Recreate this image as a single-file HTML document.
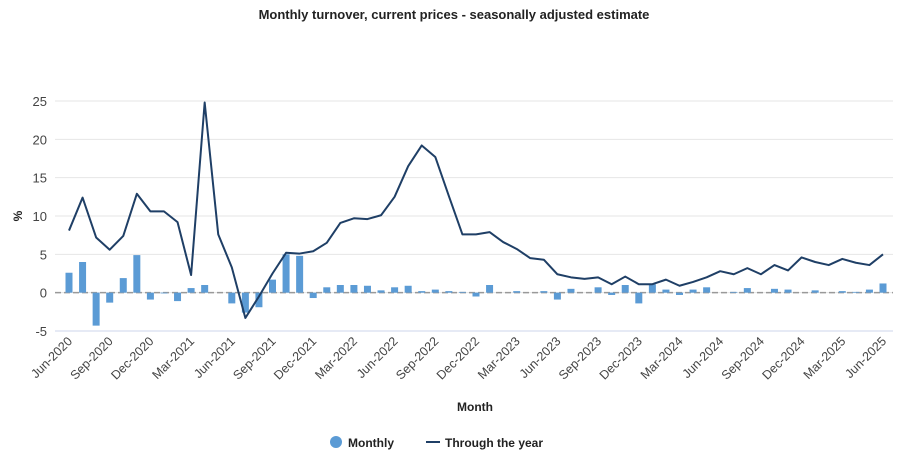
<!DOCTYPE html>
<html><head><meta charset="utf-8"><style>
body{margin:0;background:#fff;font-family:"Liberation Sans",sans-serif}
svg text{font-family:"Liberation Sans",sans-serif}
</style></head><body>
<svg id="c" width="908" height="462">
<text x="454" y="19" text-anchor="middle" font-size="13" font-weight="bold" fill="#222">Monthly turnover, current prices - seasonally adjusted estimate</text>
<g id="grid"></g><g id="bars"></g><g id="line"></g><g id="xl"></g>
<text transform="translate(22,216) rotate(-90)" text-anchor="middle" font-size="12" font-weight="bold" fill="#222">%</text>
<text x="475" y="411" text-anchor="middle" font-size="12" font-weight="bold" fill="#222">Month</text>
<g><circle cx="336" cy="442" r="6" fill="#5b9bd5"/><text x="348" y="447" font-size="12" font-weight="bold" fill="#222">Monthly</text></g>
<g><line x1="426" y1="442" x2="440" y2="442" stroke="#1f3f66" stroke-width="2"/><text x="445" y="447" font-size="12" font-weight="bold" fill="#222">Through the year</text></g>
</svg>
<script>
const months=["Jun","Jul","Aug","Sep","Oct","Nov","Dec","Jan","Feb","Mar","Apr","May"];
const startYear=2020;
const yTicks=[-5,0,5,10,15,20,25];
const through=[8.1,12.4,7.2,5.6,7.4,12.9,10.6,10.6,9.2,2.3,24.8,7.6,3.3,-3.3,-0.5,2.5,5.2,5.1,5.4,6.5,9.1,9.7,9.6,10.1,12.5,16.5,19.2,17.7,12.6,7.6,7.6,7.9,6.6,5.7,4.5,4.3,2.4,2.0,1.8,2.0,1.1,2.1,1.1,1.1,1.7,0.9,1.4,2.0,2.8,2.4,3.2,2.4,3.6,2.9,4.6,4.0,3.6,4.4,3.9,3.6,5.0];
const monthly=[2.6,4.0,-4.3,-1.3,1.9,4.9,-0.9,-0.1,-1.1,0.6,1.0,0.0,-1.4,-2.6,-1.9,1.7,5.0,4.8,-0.7,0.7,1.0,1.0,0.9,0.3,0.7,0.9,0.2,0.4,0.2,0.1,-0.5,1.0,0,0.2,0,0.2,-0.9,0.5,0,0.7,-0.3,1.0,-1.4,1.1,0.4,-0.3,0.4,0.7,0,0.1,0.6,0,0.5,0.4,0,0.3,0,0.2,0.1,0.4,1.2];
const NS="http://www.w3.org/2000/svg";
const x0=69,x1=883,yTop=101,yBot=331;
const X=i=>x0+(x1-x0)*i/(through.length-1);
const Y=v=>yBot-(v+5)/30*(yBot-yTop);
function mk(t,a,p){const e=document.createElementNS(NS,t);for(const k in a)e.setAttribute(k,a[k]);p.appendChild(e);return e;}
const G=document.getElementById('grid');
yTicks.forEach(v=>{
 const l=mk('line',{x1:55,x2:893,y1:Y(v),y2:Y(v),stroke:v==-5?'#ccd6eb':'#e6e6e6','stroke-width':1},G);
 
 
 const t=mk('text',{x:47,y:Y(v)+5,'text-anchor':'end','font-size':13,fill:'#444'},G);t.textContent=v;
 
 
});
const z=mk('line',{x1:55,x2:893,y1:Y(0),y2:Y(0),stroke:'#999','stroke-width':1.5,'stroke-dasharray':'6,3'},G);


const B=document.getElementById('bars');
monthly.forEach((v,i)=>{
 const r=mk('rect',{x:X(i)-3.5,y:Math.min(Y(v),Y(0)),width:7,height:Math.abs(Y(v)-Y(0)),fill:'#5b9bd5'},B);
 
 
});
const p=mk('polyline',{points:through.map((v,i)=>X(i)+','+Y(v)).join(' '),fill:'none',stroke:'#1f3f66','stroke-width':2,'stroke-linejoin':'round'},document.getElementById('line'));


const XL=document.getElementById('xl');
for(let i=0;i<through.length;i+=3){
 const m=months[i%12];const yr=startYear+Math.floor((i+5)/12);
 const t=mk('text',{transform:`translate(${X(i)+4},${342}) rotate(-45)`,'text-anchor':'end','font-size':12.5,fill:'#444'},XL);
 t.textContent=m+'-'+yr;
 
 
}
</script>
</body></html>
